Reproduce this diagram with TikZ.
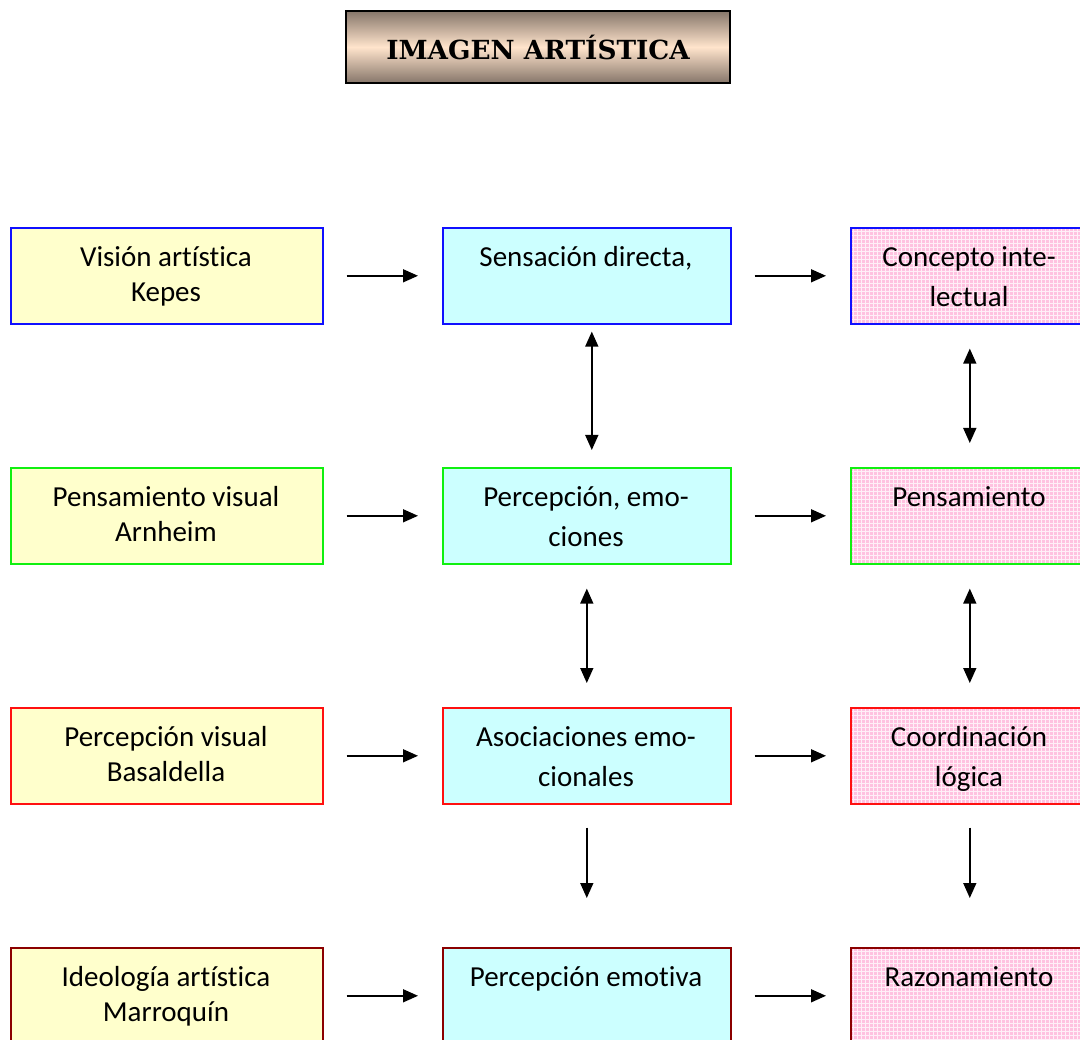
\documentclass[tikz,border=0pt]{standalone}
\usepackage{fontspec}
\setmainfont{Carlito}[Ligatures={NoCommon}]
\newfontfamily\titlefont{DejaVu Serif}
\usetikzlibrary{arrows.meta}
\definecolor{lyellow}{HTML}{FFFFCC}
\definecolor{lcyan}{HTML}{CCFFFF}
\definecolor{lpink}{HTML}{FFC2E0}
\definecolor{bblue}{HTML}{1010FF}
\definecolor{bgreen}{HTML}{10F010}
\definecolor{bred}{HTML}{FF1010}
\definecolor{bdred}{HTML}{8B0000}
\definecolor{tdark}{HTML}{86766A}
\definecolor{tlight}{HTML}{FFE4CC}
\tikzset{
  box/.style={draw, line width=1.6pt, anchor=north west, inner sep=0pt, minimum height=96pt},
  lbox/.style={box, fill=lyellow, minimum width=312pt},
  mbox/.style={box, fill=lcyan, minimum width=288pt},
  rbox/.style={box, fill=lpink, minimum width=238pt,
    path picture={\draw[white, line width=0.9pt, step=4pt, opacity=0.75]
      ([xshift=-4pt,yshift=-4pt]path picture bounding box.south west) grid
      ([xshift=4pt,yshift=4pt]path picture bounding box.north east);}},
  ltxt/.style={anchor=north, inner sep=0pt, align=center, font=\fontsize{29}{35.5}\selectfont},
  mtxt/.style={anchor=north, inner sep=0pt, align=center, font=\fontsize{29}{40.5}\selectfont},
  arr/.style={line width=1.5pt, -{Triangle[length=15pt,width=13pt]}},
  darr/.style={line width=1.5pt, {Triangle[length=15pt,width=13pt]}-{Triangle[length=15pt,width=13pt]}},
}
\newcommand{\st}{\rule{0pt}{22pt}}
\begin{document}
\begin{tikzpicture}[x=1pt,y=-1pt]
\useasboundingbox (0,0) rectangle (1080,1040);
\clip (0,0) rectangle (1080,1040);
% title
\node[draw=black, line width=1.6pt, minimum width=384pt, minimum height=72pt, inner sep=0pt,
  top color=tdark, bottom color=tdark, middle color=tlight] (title) at (538,47)
  {\titlefont\bfseries\fontsize{26.3}{30}\selectfont IMAGEN ARTÍSTICA};
% row 1
\node[lbox, draw=bblue] (L1) at (10,227) {};
\node[mbox, draw=bblue] (M1) at (442,227) {};
\node[rbox, draw=bblue] (R1) at (850,227) {};
% row 2
\node[lbox, draw=bgreen] (L2) at (10,467) {};
\node[mbox, draw=bgreen] (M2) at (442,467) {};
\node[rbox, draw=bgreen] (R2) at (850,467) {};
% row 3
\node[lbox, draw=bred] (L3) at (10,707) {};
\node[mbox, draw=bred] (M3) at (442,707) {};
\node[rbox, draw=bred] (R3) at (850,707) {};
% row 4
\node[lbox, draw=bdred] (L4) at (10,947) {};
\node[mbox, draw=bdred] (M4) at (442,947) {};
\node[rbox, draw=bdred] (R4) at (850,947) {};
% texts
\node[ltxt] (tL1) at (166,244) {\st Visión artística\\Kepes};
\node[mtxt] (tM1) at (586,244) {\st Sensación directa,};
\node[mtxt] (tR1) at (969,244) {\st Concepto inte-\\lectual};
\node[ltxt] (tL2) at (166,484) {\st Pensamiento visual\\Arnheim};
\node[mtxt] (tM2) at (586,484) {\st Percepción, emo-\\ciones};
\node[mtxt] (tR2) at (969,484) {\st Pensamiento};
\node[ltxt] (tL3) at (166,724) {\st Percepción visual\\Basaldella};
\node[mtxt] (tM3) at (586,724) {\st Asociaciones emo-\\cionales};
\node[mtxt] (tR3) at (969,724) {\st Coordinación\\lógica};
\node[ltxt] (tL4) at (166,964) {\st Ideología artística\\Marroquín};
\node[mtxt] (tM4) at (586,964) {\st Percepción emotiva};
\node[mtxt] (tR4) at (969,964) {\st Razonamiento};
% horizontal arrows
\foreach \r in {1,2,3,4}{
  \draw[arr, shorten <=23pt, shorten >=24pt] (L\r) -- (M\r);
  \draw[arr, shorten <=23pt, shorten >=24pt] (M\r) -- (R\r);
}
% vertical arrows
\draw[darr, shorten <=7pt, shorten >=17pt] ([xshift=5pt]M1.south) -- ([xshift=5pt]M2.north);
\draw[darr, shorten <=24pt, shorten >=24pt] (M2.south) -- (M3.north);
\draw[arr, shorten <=23pt, shorten >=49pt] (M3.south) -- (M4.north);
\draw[darr, shorten <=24pt, shorten >=24pt] (R1.south) -- (R2.north);
\draw[darr, shorten <=24pt, shorten >=24pt] (R2.south) -- (R3.north);
\draw[arr, shorten <=23pt, shorten >=49pt] (R3.south) -- (R4.north);
\end{tikzpicture}
\end{document}
